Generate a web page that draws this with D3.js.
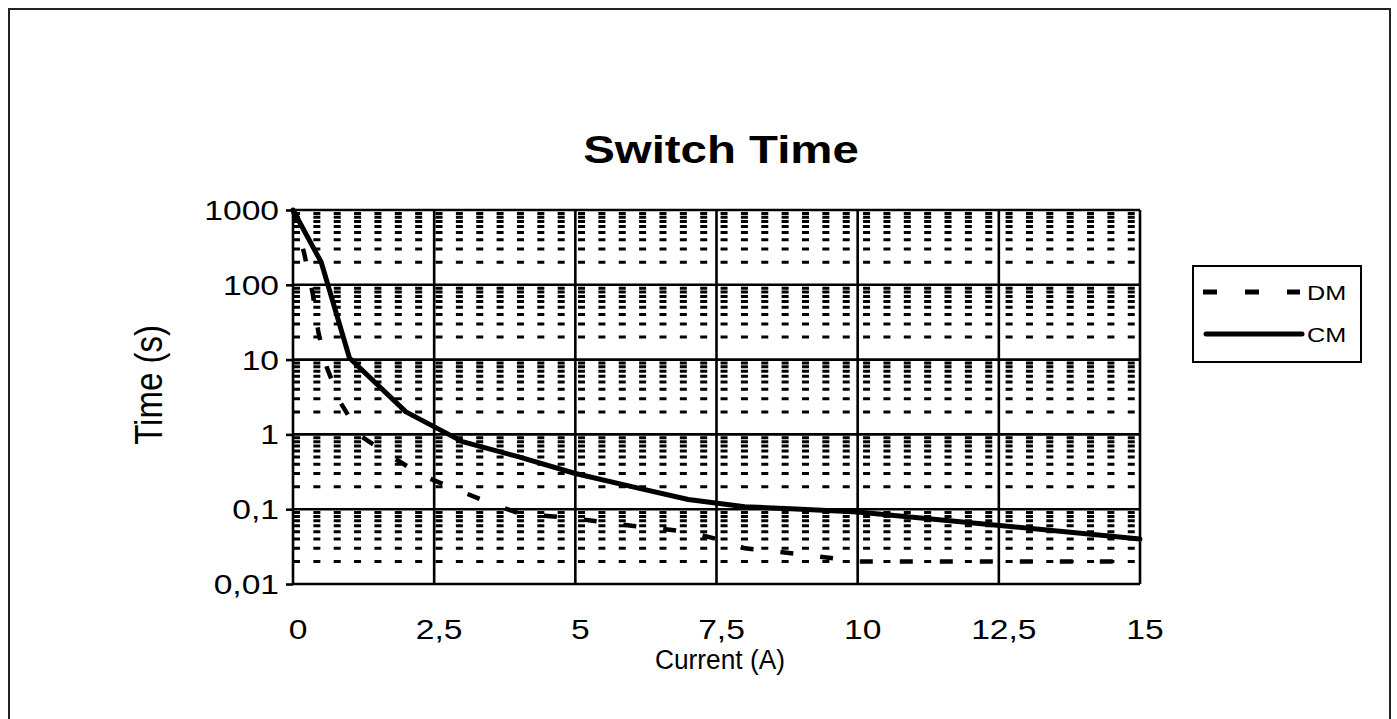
<!DOCTYPE html>
<html>
<head>
<meta charset="utf-8">
<script src="https://cdn.jsdelivr.net/npm/d3@7"></script>
<style>
  html, body { margin: 0; padding: 0; background: #fff; }
  svg { display: block; }
  text { font-family: "Liberation Sans", Arial, sans-serif; fill: #000; }
</style>
</head>
<body>
<svg id="chart" width="1397" height="719"></svg>
<script>
// ---- data ----
const chartTitle = "Switch Time";
const xTitle = "Current (A)";
const yTitle = "Time (s)";
const seriesNames = ["DM", "CM"];

const currentDM = [0, 0.2, 0.35, 0.45, 0.6, 0.85, 1.2, 1.75, 2.3, 3, 3.5, 4, 5, 6, 7, 7.5, 8, 9, 10, 12, 15];
const timeDM    = [1000, 260, 76, 23, 7.8, 2.6, 0.95, 0.5, 0.28, 0.17, 0.12, 0.088, 0.075, 0.06, 0.05, 0.04, 0.03, 0.025, 0.02, 0.02, 0.02];

const currentCM = [0, 0.5, 1, 2, 3, 4, 5, 6, 7, 8, 9, 10, 15];
const timeCM    = [1000, 200, 10.5, 2, 0.8, 0.5, 0.3, 0.2, 0.135, 0.108, 0.1, 0.092, 0.04];

const xTicks = [0, 2.5, 5, 7.5, 10, 12.5, 15];
const xTickLabels = ["0", "2,5", "5", "7,5", "10", "12,5", "15"];
const yTicks = [0.01, 0.1, 1, 10, 100, 1000];
const yTickLabels = ["0,01", "0,1", "1", "10", "100", "1000"];

// ---- layout ----
const svg = d3.select("#chart");
const W = 1397, H = 719;
const pLeft = 293, pRight = 1140, pTop = 210, pBottom = 584;

svg.append("rect").attr("width", W).attr("height", H).attr("fill", "#fff");
svg.append("rect").attr("x", 9).attr("y", 9).attr("width", 1381).attr("height", 730)
  .attr("fill", "none").attr("stroke", "#222").attr("stroke-width", 2);

const x = d3.scaleLinear().domain([0, 15]).range([pLeft, pRight]);
const y = d3.scaleLog().domain([0.01, 1000]).range([pBottom, pTop]);

// minor gridlines (dashed)
const minors = [];
yTicks.slice(0, -1).forEach(d => { for (let k = 2; k <= 9; k++) minors.push(k * d); });
svg.append("g").selectAll("line").data(minors).join("line")
  .attr("x1", pLeft).attr("x2", pRight)
  .attr("y1", d => y(d)).attr("y2", d => y(d))
  .attr("stroke", "#000").attr("stroke-width", 3)
  .attr("stroke-dasharray", "7,13.36");

// major horizontal gridlines
svg.append("g").selectAll("line").data(yTicks).join("line")
  .attr("x1", pLeft).attr("x2", pRight)
  .attr("y1", d => y(d)).attr("y2", d => y(d))
  .attr("stroke", "#000").attr("stroke-width", 2.6);

// major vertical gridlines
svg.append("g").selectAll("line").data(xTicks).join("line")
  .attr("x1", d => x(d)).attr("x2", d => x(d))
  .attr("y1", pTop).attr("y2", pBottom)
  .attr("stroke", "#000").attr("stroke-width", 2.6);

// y axis tick marks
const yAxis = d3.axisLeft(y).tickValues(yTicks).tickSize(7).tickFormat((d, i) => yTickLabels[i]).tickPadding(4);
const gy = svg.append("g").attr("transform", `translate(${pLeft},0)`).call(yAxis);
gy.select(".domain").remove();
gy.selectAll(".tick line").attr("stroke", "#000").attr("stroke-width", 2.6);
gy.selectAll(".tick text").remove();
// y tick labels (horizontally stretched like the original)
svg.append("g").selectAll("text").data(yTicks).join("text")
  .attr("transform", d => `translate(279,${y(d) + 10}) scale(1.2,1)`)
  .attr("text-anchor", "end")
  .style("font-size", "28px")
  .text((d, i) => yTickLabels[i]);

// x tick labels
svg.append("g").selectAll("text").data(xTicks).join("text")
  .attr("transform", d => `translate(${x(d) + 5},639) scale(1.2,1)`)
  .attr("text-anchor", "middle")
  .style("font-size", "28px")
  .text((d, i) => xTickLabels[i]);

// title
svg.append("text")
  .attr("transform", `translate(721,163) scale(1.2,1)`)
  .attr("text-anchor", "middle")
  .style("font-size", "39.5px").style("font-weight", "bold")
  .text(chartTitle);

// axis titles
svg.append("text")
  .attr("x", 655).attr("y", 669)
  .attr("textLength", 130).attr("lengthAdjust", "spacingAndGlyphs")
  .style("font-size", "27px")
  .text(xTitle);
svg.append("text")
  .attr("transform", `translate(162,385) scale(1.2,1) rotate(-90)`)
  .attr("text-anchor", "middle")
  .style("font-size", "33px")
  .text(yTitle);

// curves
const line = d3.line().x(d => x(d[0])).y(d => y(d[1]));
const dmData = currentDM.map((c, i) => [c, timeDM[i]]);
const cmData = currentCM.map((c, i) => [c, timeCM[i]]);

svg.append("path").datum(dmData).attr("d", line)
  .attr("fill", "none").attr("stroke", "#000").attr("stroke-width", 4.5)
  .attr("stroke-dasharray", "13,27").attr("stroke-linejoin", "round");
svg.append("path").datum(cmData).attr("d", line)
  .attr("fill", "none").attr("stroke", "#000").attr("stroke-width", 5)
  .attr("stroke-linejoin", "round").attr("stroke-linecap", "round");

// legend
const lg = svg.append("g");
lg.append("rect").attr("x", 1193).attr("y", 266).attr("width", 168).attr("height", 96)
  .attr("fill", "#fff").attr("stroke", "#000").attr("stroke-width", 2);
lg.append("line").attr("x1", 1203).attr("x2", 1300).attr("y1", 292).attr("y2", 292)
  .attr("stroke", "#000").attr("stroke-width", 5).attr("stroke-dasharray", "14,28");
lg.append("line").attr("x1", 1206).attr("x2", 1302).attr("y1", 334).attr("y2", 334)
  .attr("stroke", "#000").attr("stroke-width", 5).attr("stroke-linecap", "round");
lg.selectAll("text.lbl").data(seriesNames).join("text").attr("class", "lbl")
  .attr("transform", (d, i) => `translate(1307,${300 + i * 42}) scale(1.2,1)`)
  .style("font-size", "21px")
  .text(d => d);
</script>
</body>
</html>
